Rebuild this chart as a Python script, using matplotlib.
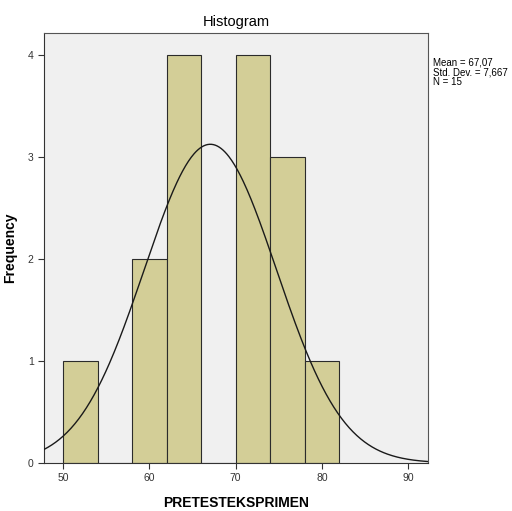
import numpy as np
import matplotlib
matplotlib.use('Agg')
import matplotlib.pyplot as plt

plt.rcParams['font.family'] = ['Liberation Sans', 'DejaVu Sans']

##### Data #####
bin_edges = [50, 54, 58, 62, 66, 70, 74, 78, 82]
counts = [1, 0, 2, 4, 0, 4, 3, 1]
mean = 67.07
sd = 7.667
n = 15
################

fig = plt.figure(figsize=(5.12, 5.11), dpi=100)
ax = fig.add_axes([0.086, 0.094, 0.75, 0.841])
ax.set_facecolor('#f0f0f0')

lefts = bin_edges[:-1]
widths = np.diff(bin_edges)
ax.bar(lefts, counts, width=widths, align='edge', color='#d3ce97',
       edgecolor='#2b2b2b', linewidth=0.8, zorder=2)

# fitted normal curve (scaled to counts)
bw = widths[0]
x = np.linspace(47.8, 92.3, 400)
y = n * bw / (sd * np.sqrt(2 * np.pi)) * np.exp(-(x - mean) ** 2 / (2 * sd ** 2))
ax.plot(x, y, color='#1a1a1a', linewidth=1.0, zorder=3)

ax.set_xlim(47.8, 92.3)
ax.set_ylim(0, 4.21)
ax.set_xticks([50, 60, 70, 80, 90])
ax.set_yticks([0, 1, 2, 3, 4])
ax.tick_params(labelsize=7.5, length=4, width=0.8, colors='#333333', direction='out')
for s in ax.spines.values():
    s.set_color('#555555')
    s.set_linewidth(0.8)
ax.spines['left'].set_color('#333333')
ax.spines['bottom'].set_color('#333333')

ax.set_title('Histogram', fontsize=10.5, pad=5)
ax.set_xlabel('PRETESTEKSPRIMEN', fontsize=10, fontweight='bold')
ax.set_ylabel('Frequency', fontsize=10, fontweight='bold')
ax.xaxis.set_label_coords(0.5, -0.077)
ax.yaxis.set_label_coords(-0.07, 0.5)

fig.text(0.845, 0.888, 'Mean = 67,07\nStd. Dev. = 7,667\nN = 15',
         fontsize=7, va='top', ha='left', linespacing=1.0)

plt.savefig('out.png', dpi=100, facecolor='white')
